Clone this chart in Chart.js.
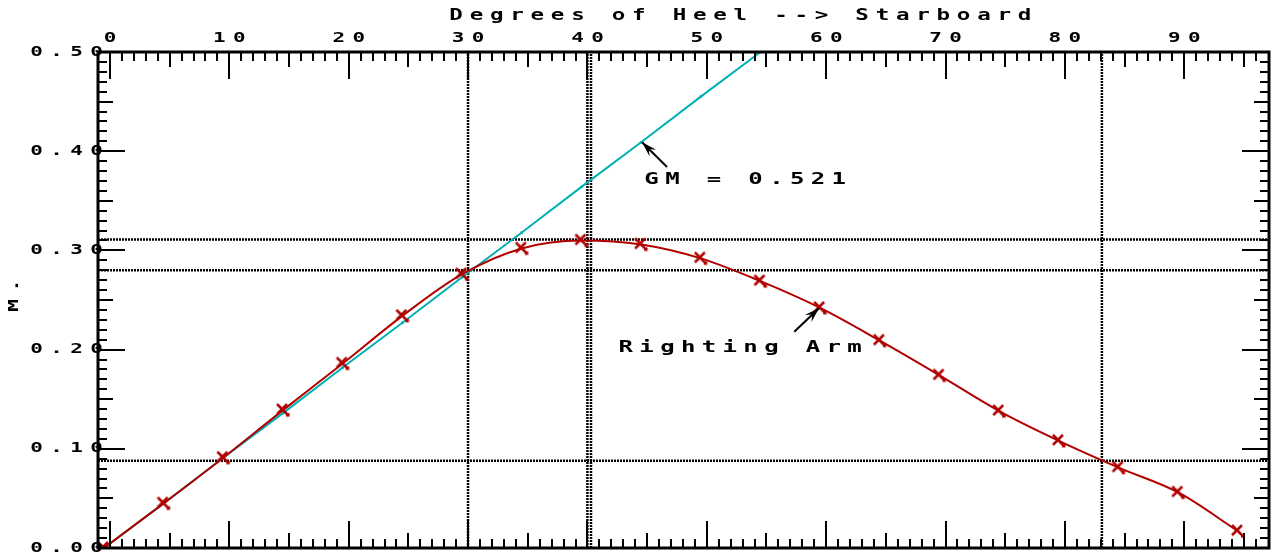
<!DOCTYPE html>
<html>
<head>
<meta charset="utf-8">
<script src="https://cdn.jsdelivr.net/npm/chart.js@4/dist/chart.umd.min.js"></script>
<style>
  html, body { margin: 0; padding: 0; background: #fff; }
  #wrap { width: 1277px; height: 556px; }
</style>
</head>
<body>
<div id="wrap"><canvas id="heel-chart" width="1277" height="556"></canvas></div>
<script>
// heel angles (deg) and righting arm (m)
var heelAngles = [0, 5, 10, 15, 20, 25, 30, 35, 40, 45, 50, 55, 60, 65, 70, 75, 80, 85, 90, 95];
var rightingArm = [0.000, 0.045, 0.091, 0.139, 0.186, 0.234, 0.276, 0.302, 0.310, 0.306,
                   0.292, 0.269, 0.242, 0.209, 0.174, 0.138, 0.108, 0.081, 0.056, 0.017];

// initial GM slope line
var gmAngles = [0, 5, 10, 15, 20, 25, 30, 35, 40, 45, 50, 55];
var gmLine = [0.000, 0.045, 0.091, 0.136, 0.182, 0.227, 0.273, 0.318, 0.364, 0.409, 0.455, 0.500];

// dotted marker lines
var refLevels = [0.311, 0.280, 0.088];
var refAngles = [30.5, 40.5, 40.8, 83.6];

var xTickStep = 10;
var yTickStep = 0.1;

var FONT = '"DejaVu Sans Mono", "Liberation Mono", monospace';
var xTickShift = 6; // the original scale marks sit a few pixels right of the data

function makeCross(color) {
    var c = document.createElement('canvas');
    c.width = 20; c.height = 20;
    var g = c.getContext('2d');
    g.strokeStyle = color;
    g.lineWidth = 2.5;
    g.beginPath();
    g.moveTo(4, 4); g.lineTo(14, 14);
    g.moveTo(14, 4); g.lineTo(4, 14);
    g.stroke();
    g.fillStyle = color;
    g.fillRect(13, 13, 3.5, 3.5);
    return c;
}

function pairs(xs, ys) {
    return xs.map(function(x, i) { return {x: x, y: ys[i]}; });
}

function tickLen(i) {
    return i % 10 === 0 ? 27 : (i % 5 === 0 ? 15 : 9);
}

// wide, evenly pitched typewriter lettering like the original plotter text
function spaced(ctx, text, x, y, align, st) {
    var n = text.length, span = (n - 1) * st.pitch;
    var first;
    if (align === 'left') first = x + st.half;
    else if (align === 'right') first = x - span - st.half;
    else first = x - span / 2;
    ctx.font = 'bold ' + st.size + 'px ' + FONT;
    ctx.textAlign = 'center';
    ctx.textBaseline = 'middle';
    for (var i = 0; i < n; i++) {
        ctx.save();
        ctx.translate(first + i * st.pitch, y);
        ctx.scale(st.sx, 1);
        ctx.fillText(text[i], 0, 0);
        ctx.restore();
    }
}

function drawArrow(ctx, x1, y1, x2, y2) {
    var ang = Math.atan2(y2 - y1, x2 - x1), head = 16;
    ctx.beginPath();
    ctx.moveTo(x1, y1);
    ctx.lineTo(x2, y2);
    ctx.stroke();
    ctx.beginPath();
    ctx.moveTo(x2, y2);
    ctx.lineTo(x2 - head * Math.cos(ang - 0.3), y2 - head * Math.sin(ang - 0.3));
    ctx.lineTo(x2 - head * 0.6 * Math.cos(ang), y2 - head * 0.6 * Math.sin(ang));
    ctx.lineTo(x2 - head * Math.cos(ang + 0.3), y2 - head * Math.sin(ang + 0.3));
    ctx.closePath();
    ctx.fill();
}

var tickText = {size: 13.5, sx: 1.55, pitch: 20, half: 5.5};
var titleText = {size: 15, sx: 1.5, pitch: 20.3, half: 6};
var noteText = {size: 15, sx: 1.6, pitch: 20.8, half: 6.5};

var frameAndNotes = {
    id: 'frameAndNotes',
    afterDraw: function(chart, args, opts) {
        var ctx = chart.ctx, a = chart.chartArea;
        var xs = chart.scales.x, ys = chart.scales.y;
        ctx.save();
        ctx.strokeStyle = '#000';
        ctx.fillStyle = '#000';

        // inward tick marks on all four sides
        ctx.lineWidth = 2;
        ctx.beginPath();
        for (var d = 0; d < 100; d++) {
            var px = Math.round(xs.getPixelForValue(d)) + xTickShift;
            if (px > a.right - 2) break;
            ctx.moveTo(px, a.top); ctx.lineTo(px, a.top + tickLen(d));
            ctx.moveTo(px, a.bottom); ctx.lineTo(px, a.bottom - tickLen(d));
        }
        for (var i = 0; i <= 50; i++) {
            var py = Math.round(ys.getPixelForValue(i / 100));
            ctx.moveTo(a.left, py); ctx.lineTo(a.left + tickLen(i), py);
            ctx.moveTo(a.right, py); ctx.lineTo(a.right - tickLen(i), py);
        }
        ctx.stroke();

        ctx.lineWidth = 3;
        ctx.strokeRect(a.left, a.top, a.right - a.left, a.bottom - a.top);

        // tick labels from the scales' own ticks
        xs.ticks.forEach(function(t) {
            spaced(ctx, String(t.value), xs.getPixelForValue(t.value) + xTickShift, 38, 'center', tickText);
        });
        ys.ticks.forEach(function(t) {
            spaced(ctx, t.value.toFixed(2), a.left + 4, ys.getPixelForValue(t.value), 'right', tickText);
        });

        // axis titles
        spaced(ctx, opts.title.text, xs.getPixelForValue(opts.title.x), opts.title.y, 'left', titleText);
        ctx.save();
        ctx.translate(opts.yTitle.x, ys.getPixelForValue(opts.yTitle.y));
        ctx.rotate(-Math.PI / 2);
        spaced(ctx, opts.yTitle.text, 0, 0, 'left', tickText);
        ctx.restore();

        // annotations
        ctx.lineWidth = 2;
        opts.notes.forEach(function(n) {
            spaced(ctx, n.text, xs.getPixelForValue(n.x), ys.getPixelForValue(n.y), 'left', noteText);
            drawArrow(ctx,
                xs.getPixelForValue(n.from[0]), ys.getPixelForValue(n.from[1]),
                xs.getPixelForValue(n.to[0]), ys.getPixelForValue(n.to[1]));
        });
        ctx.restore();
    }
};

var datasets = [
    {
        label: 'Righting Arm',
        data: pairs(heelAngles, rightingArm),
        showLine: true,
        borderColor: '#b00000',
        backgroundColor: '#b00000',
        borderWidth: 2,
        cubicInterpolationMode: 'monotone',
        pointStyle: makeCross('#b00000'),
        pointRadius: 6
    },
    {
        label: 'GM',
        data: pairs(gmAngles, gmLine),
        showLine: true,
        borderColor: '#00b0b4',
        backgroundColor: '#00b0b4',
        borderWidth: 2,
        pointStyle: 'rect',
        pointRadius: 1.8,
        pointBorderWidth: 0
    }
];

refLevels.forEach(function(v) {
    datasets.push({
        data: [{x: -0.5, y: v}, {x: 97.6, y: v}],
        showLine: true, borderColor: '#000', borderWidth: 2.5,
        borderDash: [2, 1], pointRadius: 0
    });
});
refAngles.forEach(function(v) {
    datasets.push({
        data: [{x: v, y: 0}, {x: v, y: 0.5}],
        showLine: true, borderColor: '#000', borderWidth: 2.5,
        borderDash: [2, 1], pointRadius: 0
    });
});

var ctx = document.getElementById('heel-chart').getContext('2d');
window.heelChart = new Chart(ctx, {
    type: 'scatter',
    data: {datasets: datasets},
    plugins: [frameAndNotes],
    options: {
        responsive: false,
        animation: false,
        devicePixelRatio: 1,
        layout: {padding: {left: 0, right: 2, top: 0, bottom: 4}},
        plugins: {
            legend: {display: false},
            tooltip: {enabled: false},
            frameAndNotes: {
                title: {text: 'Degrees of Heel --> Starboard', x: 29.0, y: 16},
                yTitle: {text: 'M.', x: 14, y: 0.239},
                notes: [
                    {text: 'GM = 0.521', x: 45.33, y: 0.371, from: [47.17, 0.384], to: [45.08, 0.409]},
                    {text: 'Righting Arm', x: 43.17, y: 0.202, from: [57.83, 0.218], to: [59.92, 0.242]}
                ]
            }
        },
        scales: {
            x: {
                type: 'linear',
                position: 'top',
                min: -0.5,
                max: 97.6,
                afterFit: function(s) { s.height = 52; },
                grid: {display: false, drawTicks: false},
                border: {display: false},
                ticks: {display: false, stepSize: xTickStep, includeBounds: false}
            },
            y: {
                min: 0,
                max: 0.5,
                afterFit: function(s) { s.width = 98; },
                grid: {display: false, drawTicks: false},
                border: {display: false},
                ticks: {display: false, stepSize: yTickStep}
            }
        }
    }
});
</script>
</body>
</html>
